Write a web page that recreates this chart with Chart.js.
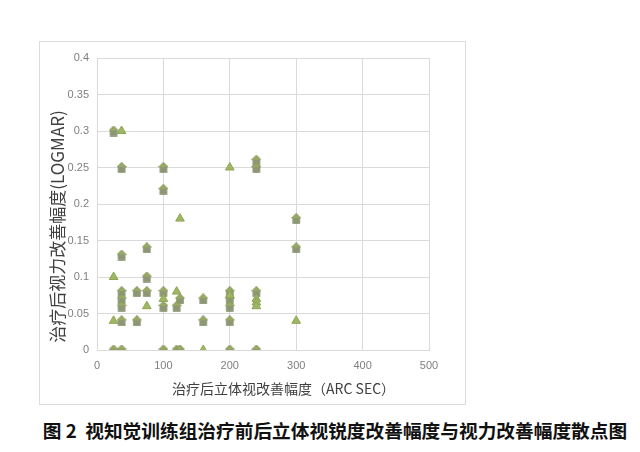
<!DOCTYPE html>
<html>
<head>
<meta charset="utf-8">
<script src="https://cdn.jsdelivr.net/npm/chart.js@4/dist/chart.umd.min.js"></script>
<style>
  html,body{margin:0;padding:0;background:#fff;width:640px;height:452px;overflow:hidden;}
  #box{position:absolute;left:39px;top:41px;width:427px;height:364px;border:1px solid #dcdcdc;box-sizing:border-box;}
  #c{position:absolute;left:0;top:0;}
  #cap{position:absolute;left:0;top:416px;width:640px;text-align:center;font-family:"Noto Sans CJK SC",sans-serif;font-weight:bold;font-size:18.7px;color:#111;white-space:pre;padding-left:30px;box-sizing:border-box;}
</style>
</head>
<body>
<div id="box"><canvas id="c" width="425" height="362"></canvas></div>
<div id="cap">图 2  视知觉训练组治疗前后立体视锐度改善幅度与视力改善幅度散点图</div>
<script>
// ---- data (x: stereo improvement, arc sec; y: visual acuity improvement, LogMAR)
const houseX = [25, 37, 100, 100, 240, 240, 300, 75, 300, 37, 75,
                37, 60, 75, 100, 240, 200,
                37, 125, 160, 200,
                37, 100, 120, 200,
                37, 60, 160, 200,
                25, 37, 100, 120, 125, 200, 240];
const houseY = [0.30, 0.25, 0.25, 0.22, 0.26, 0.25, 0.18, 0.14, 0.14, 0.13, 0.10,
                0.08, 0.08, 0.08, 0.08, 0.08, 0.08,
                0.07, 0.07, 0.07, 0.07,
                0.06, 0.06, 0.06, 0.06,
                0.04, 0.04, 0.04, 0.04,
                0, 0, 0, 0, 0, 0, 0];
const triX = [37, 200, 125, 25, 120, 100, 75, 25, 300, 160, 200, 240, 240, 240];
const triY = [0.30, 0.25, 0.18, 0.10, 0.08, 0.07, 0.06, 0.04, 0.04, 0, 0.075, 0.07, 0.065, 0.06];
const xTicks = [0, 100, 200, 300, 400, 500];
const yTicks = [0, 0.05, 0.1, 0.15, 0.2, 0.25, 0.3, 0.35, 0.4];
const xTitle = "治疗后立体视改善幅度（ARC SEC）";
const yTitle = "治疗后视力改善幅度(LOGMAR)";

const toPts = (xs, ys) => xs.map((x, i) => ({x: x, y: ys[i]}));

// house-shaped marker
const house = document.createElement('canvas');
house.width = 10; house.height = 11;
(function(){
  const g = house.getContext('2d');
  g.fillStyle = '#8d9776';
  g.fillRect(1.5, 4.5, 7, 6);
  g.fillStyle = '#98ab63';
  g.beginPath(); g.moveTo(0, 5); g.lineTo(5, 0); g.lineTo(10, 5); g.closePath(); g.fill();
  g.strokeStyle = 'rgba(110,125,80,0.6)'; g.lineWidth = 0.8;
  g.beginPath(); g.moveTo(0.5,5); g.lineTo(5,0.5); g.lineTo(9.5,5); g.lineTo(8.5,5); g.lineTo(8.5,10.5); g.lineTo(1.5,10.5); g.lineTo(1.5,5); g.closePath(); g.stroke();
})();

const titlePlugin = {
  id: 'axisTitles',
  afterDraw(chart) {
    const ctx = chart.ctx, a = chart.chartArea;
    ctx.save();
    ctx.fillStyle = '#404040';
    ctx.textAlign = 'center';
    ctx.textBaseline = 'middle';
    ctx.font = '14px "Noto Sans CJK SC", sans-serif';
    ctx.fillText(xTitle, a.left + 0.562 * (a.right - a.left), a.bottom + 39);
    ctx.translate(18, a.top + 0.577 * (a.bottom - a.top));
    ctx.rotate(-Math.PI / 2);
    ctx.font = '17px "Noto Sans CJK SC", sans-serif';
    ctx.fillText(yTitle, 0, 0);
    ctx.restore();
  }
};

new Chart(document.getElementById('c'), {
  type: 'scatter',
  data: {
    datasets: [
      {label: 'A', data: toPts(triX, triY), pointStyle: 'triangle', pointRadius: 5, pointHoverRadius: 5,
       backgroundColor: '#9fb665', borderColor: '#8ea552', borderWidth: 1},
      {label: 'B', data: toPts(houseX, houseY), pointStyle: house, pointRadius: 5, pointHoverRadius: 5}
    ]
  },
  options: {
    responsive: false,
    animation: false,
    events: [],
    layout: {padding: {top: 16, right: 36, left: 0, bottom: 0}},
    plugins: {legend: {display: false}, tooltip: {enabled: false}},
    scales: {
      x: {
        type: 'linear', min: 0, max: 500,
        afterBuildTicks: s => { s.ticks = xTicks.map(v => ({value: v})); },
        afterFit: s => { s.height = 54; },
        grid: {color: '#dadada', lineWidth: 1, drawTicks: false},
        border: {color: '#dadada'},
        ticks: {padding: 9, color: '#7f7f7f', font: {size: 11, family: '"Liberation Sans", Arial, sans-serif'}, maxRotation: 0}
      },
      y: {
        type: 'linear', min: 0, max: 0.4,
        afterBuildTicks: s => { s.ticks = yTicks.map(v => ({value: v})); },
        afterFit: s => { s.width = 57; },
        grid: {color: '#dadada', lineWidth: 1, drawTicks: false},
        border: {color: '#dadada'},
        ticks: {padding: 8, color: '#7f7f7f', font: {size: 11, family: '"Liberation Sans", Arial, sans-serif'},
                callback: v => String(Math.round(v * 100) / 100)}
      }
    }
  },
  plugins: [titlePlugin]
});
</script>
</body>
</html>
